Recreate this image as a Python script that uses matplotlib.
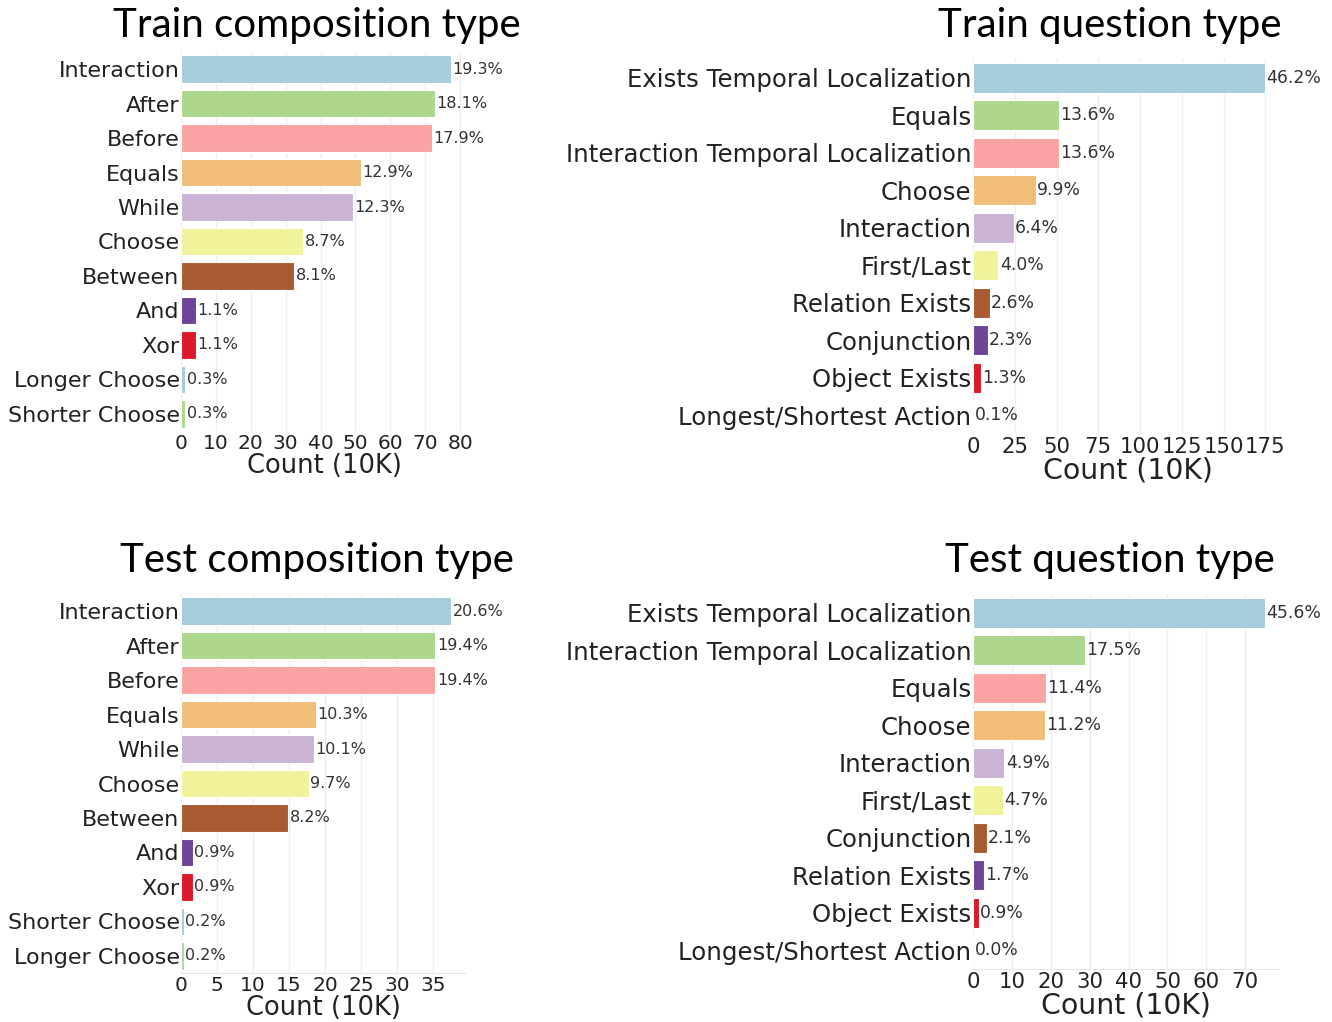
import matplotlib
matplotlib.use('Agg')
import matplotlib.pyplot as plt
from matplotlib import font_manager

# Data (counts in units of 10K)
train_comp_labels = ['Interaction', 'After', 'Before', 'Equals', 'While', 'Choose',
                     'Between', 'And', 'Xor', 'Longer Choose', 'Shorter Choose']
train_comp_counts = [77.4, 72.7, 71.9, 51.7, 49.3, 35.0, 32.5, 4.4, 4.4, 1.2, 1.2]
train_comp_pct = ['19.3%', '18.1%', '17.9%', '12.9%', '12.3%', '8.7%', '8.1%',
                  '1.1%', '1.1%', '0.3%', '0.3%']

train_q_labels = ['Exists Temporal Localization', 'Equals', 'Interaction Temporal Localization',
                  'Choose', 'Interaction', 'First/Last', 'Relation Exists', 'Conjunction',
                  'Object Exists', 'Longest/Shortest Action']
train_q_counts = [175.0, 51.5, 51.5, 37.5, 24.3, 15.2, 9.9, 8.7, 4.9, 0.4]
train_q_pct = ['46.2%', '13.6%', '13.6%', '9.9%', '6.4%', '4.0%', '2.6%', '2.3%', '1.3%', '0.1%']

test_comp_labels = ['Interaction', 'After', 'Before', 'Equals', 'While', 'Choose',
                    'Between', 'And', 'Xor', 'Shorter Choose', 'Longer Choose']
test_comp_counts = [37.5, 35.3, 35.3, 18.7, 18.4, 17.7, 14.9, 1.6, 1.6, 0.36, 0.36]
test_comp_pct = ['20.6%', '19.4%', '19.4%', '10.3%', '10.1%', '9.7%', '8.2%',
                 '0.9%', '0.9%', '0.2%', '0.2%']

test_q_labels = ['Exists Temporal Localization', 'Interaction Temporal Localization', 'Equals',
                 'Choose', 'Interaction', 'First/Last', 'Conjunction', 'Relation Exists',
                 'Object Exists', 'Longest/Shortest Action']
test_q_counts = [75.1, 28.8, 18.8, 18.4, 8.1, 7.7, 3.5, 2.8, 1.5, 0.05]
test_q_pct = ['45.6%', '17.5%', '11.4%', '11.2%', '4.9%', '4.7%', '2.1%', '1.7%', '0.9%', '0.0%']

colors = ['#a6cddb', '#acd78d', '#fba3a2', '#f2bd78', '#cab3d5', '#f0f39a',
          '#a85a30', '#6e4496', '#dc192b', '#a6cddb', '#acd78d']


def has_font(name):
    try:
        font_manager.findfont(font_manager.FontProperties(family=name), fallback_to_default=False)
        return True
    except ValueError:
        return False


title_font = 'Lato' if has_font('Lato') else 'DejaVu Sans'

W, H = 1332, 1022
fig = plt.figure(figsize=(W / 100, H / 100), dpi=100)


def px_axes(left, right, top, bottom):
    return fig.add_axes([left / W, 1 - bottom / H, (right - left) / W, (bottom - top) / H])


def draw(ax, labels, counts, pct, xmax, xticks, lab_fs, tick_fs, pct_fs, xl_fs, bottom_line):
    y = list(range(len(labels)))
    ax.barh(y, counts, height=0.8, color=colors[:len(labels)], edgecolor='white', linewidth=0.8,
            zorder=2)
    for yi, c, p in zip(y, counts, pct):
        ax.annotate(p, (c, yi), xytext=(1, 0), textcoords='offset points', ha='left',
                    va='center', fontsize=pct_fs, color='#333333')
    ax.set_ylim(len(labels) - 0.5, -0.5)
    ax.set_xlim(0, xmax)
    ax.set_yticks(y)
    ax.set_yticklabels(labels, fontsize=lab_fs, color='#222222')
    ax.set_xticks(xticks)
    ax.set_xticklabels([str(t) for t in xticks], fontsize=tick_fs, color='#222222')
    ax.tick_params(length=0, pad=1)
    ax.tick_params(axis='x', pad=2)
    ax.set_xlabel('Count (10K)', fontsize=xl_fs, color='#222222', labelpad=0)
    ax.grid(axis='x', color='#eeeeee', linewidth=1, zorder=0)
    ax.set_axisbelow(True)
    for s in ax.spines.values():
        s.set_visible(False)
    if bottom_line:
        ax.spines['bottom'].set_visible(True)
        ax.spines['bottom'].set_color('#e6e6e6')


ax1 = px_axes(181, 467, 52, 431)
draw(ax1, train_comp_labels, train_comp_counts, train_comp_pct, 82,
     [0, 10, 20, 30, 40, 50, 60, 70, 80], 16, 14.5, 11.5, 18.5, False)

ax2 = px_axes(973, 1282, 59, 434)
draw(ax2, train_q_labels, train_q_counts, train_q_pct, 185,
     [0, 25, 50, 75, 100, 125, 150, 175], 17.6, 15.3, 12.4, 20.4, False)

ax3 = px_axes(181, 465, 594, 973)
draw(ax3, test_comp_labels, test_comp_counts, test_comp_pct, 39.4,
     [0, 5, 10, 15, 20, 25, 30, 35], 16, 14.5, 11.5, 18.5, True)

ax4 = px_axes(973, 1279, 594, 969)
draw(ax4, test_q_labels, test_q_counts, test_q_pct, 78.7,
     [0, 10, 20, 30, 40, 50, 60, 70], 17.6, 15.3, 12.4, 20.4, True)

# Panel titles
titles = ['Train composition type', 'Train question type',
          'Test composition type', 'Test question type']
title_pos = [(317, 37), (1110, 37), (317, 572), (1110, 572)]
for t, (tx, ty) in zip(titles, title_pos):
    fig.text(tx / W, 1 - ty / H, t, ha='center', va='baseline',
             fontsize=29, family=title_font, color='black')

fig.savefig('out.png', dpi=100)
